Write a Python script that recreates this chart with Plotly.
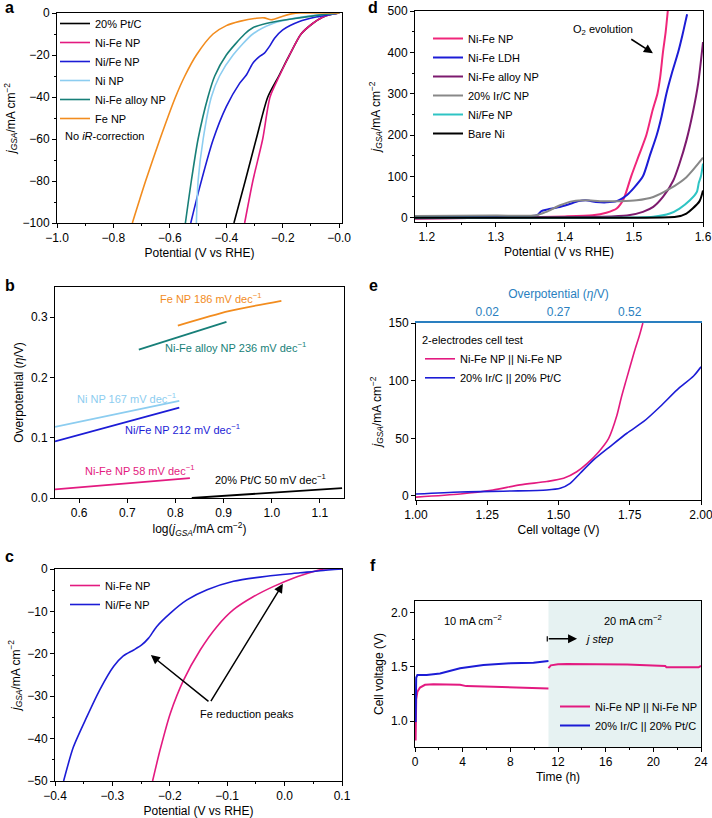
import plotly.graph_objects as go

FONT = "Arial, 'Liberation Sans', sans-serif"
W, H = 712, 818

# ---------------- panel a : HER polarisation ----------------
A_PT_X = [-0.373, -0.333, -0.294, -0.253, -0.214, -0.176, -0.135, -0.094, -0.059, -0.03, 0.0]
A_PT_Y = [-100, -80, -60, -40, -30, -20, -10, -5, -2, -0.7, 0]
A_NIFE_X = [-0.335, -0.306, -0.271, -0.245, -0.212, -0.176, -0.135, -0.094, -0.059, -0.03, 0.0]
A_NIFE_Y = [-100, -80, -60, -40, -30, -20, -10, -5, -2, -0.7, 0]
A_NI_SLASH_FE_X = [-0.526, -0.494, -0.447, -0.4, -0.353, -0.329, -0.306, -0.282, -0.265, -0.247, -0.229, -0.2, -0.141, -0.082, -0.024, 0.0]
A_NI_SLASH_FE_Y = [-100, -82.8, -60.5, -44.6, -33.5, -29.5, -23.9, -20.7, -19.1, -15.9, -12.0, -8.0, -4.0, -1.9, -0.5, 0]
A_NI_X = [-0.506, -0.5, -0.482, -0.453, -0.424, -0.376, -0.306, -0.235, -0.176, -0.082, 0.0]
A_NI_Y = [-100, -80, -60, -40, -30, -20, -10, -5, -3, -1, 0]
A_ALLOY_X = [-0.545, -0.524, -0.5, -0.465, -0.441, -0.4, -0.335, -0.306, -0.259, -0.176, -0.071, 0.0]
A_ALLOY_Y = [-100, -80, -60, -40, -30, -20, -10, -7, -5, -3, -1, 0]
A_FE_X = [-0.733, -0.686, -0.635, -0.58, -0.547, -0.506, -0.447, -0.4, -0.353, -0.294, -0.265, -0.241, -0.2, -0.165, -0.141, 0.0]
A_FE_Y = [-100, -80, -60, -40, -30, -20, -10, -6, -4, -2.5, -2.3, -3.2, -1.5, -0.3, 0, 0]
A_XTICKS = [-1.0, -0.8, -0.6, -0.4, -0.2, 0.0]
A_XTICKTEXT = ["−1.0", "−0.8", "−0.6", "−0.4", "−0.2", "−0.0"]

# ---------------- panel b : Tafel ----------------
B_FE_X = [0.805, 0.911, 1.020]
B_FE_Y = [0.286, 0.310, 0.327]
B_ALLOY_X = [0.724, 0.906]
B_ALLOY_Y = [0.246, 0.292]
B_NI_X = [0.55, 0.808]
B_NI_Y = [0.118, 0.161]
B_NI_SLASH_FE_X = [0.55, 0.808]
B_NI_SLASH_FE_Y = [0.094, 0.150]
B_NIFE_X = [0.55, 0.83]
B_NIFE_Y = [0.0143, 0.033]
B_PT_X = [0.834, 1.146]
B_PT_Y = [0.0, 0.0165]
B_LABELS = ["Fe NP 186 mV dec<sup>−1</sup>", "Ni-Fe alloy NP 236 mV dec<sup>−1</sup>",
            "Ni NP 167 mV dec<sup>−1</sup>", "Ni/Fe NP 212 mV dec<sup>−1</sup>",
            "Ni-Fe NP 58 mV dec<sup>−1</sup>", "20% Pt/C 50 mV dec<sup>−1</sup>"]
B_LABEL_X = [0.874, 0.925, 0.699, 0.814, 0.7255, 0.997]
B_LABEL_Y = [0.331, 0.251, 0.166, 0.114, 0.046, 0.031]

# ---------------- panel c : Fe reduction ----------------
C_NIFE_X = [-0.23, -0.217, -0.199, -0.176, -0.147, -0.118, -0.089, -0.054, -0.019, 0.016, 0.051, 0.068, 0.1]
C_NIFE_Y = [-50, -42.7, -34, -26.2, -19.1, -13.6, -9.6, -6.5, -4.1, -2.1, -0.6, 0, 0]
C_NI_SLASH_FE_X = [-0.385, -0.368, -0.345, -0.322, -0.298, -0.281, -0.263, -0.249, -0.237, -0.223, -0.199, -0.17, -0.135, -0.089, -0.031, 0.027, 0.062, 0.1]
C_NI_SLASH_FE_Y = [-50, -42.0, -35.0, -28.5, -23, -20.5, -19.1, -17.9, -16.3, -13.6, -10.4, -7.3, -4.9, -2.9, -1.7, -0.9, -0.4, 0]

# ---------------- panel d : OER ----------------
D_NIFE_X = [1.183, 1.3, 1.4, 1.44, 1.46, 1.475, 1.485, 1.496, 1.507, 1.518, 1.527, 1.534, 1.538, 1.542, 1.546, 1.549]
D_NIFE_Y = [-2, 0, 3, 6, 12, 22, 45, 100, 150, 200, 260, 300, 340, 400, 450, 500]
D_LDH_X = [1.183, 1.3, 1.36, 1.366, 1.375, 1.39, 1.405, 1.42, 1.43, 1.445, 1.46, 1.475, 1.49, 1.5, 1.513, 1.523, 1.533, 1.54, 1.547, 1.555, 1.564, 1.57, 1.574, 1.577]
D_LDH_Y = [2, 4, 6, 16, 20, 25, 32, 40, 42, 38, 37, 40, 55, 72, 100, 150, 200, 245, 300, 350, 400, 440, 470, 492]
D_ALLOY_X = [1.183, 1.3, 1.45, 1.49, 1.513, 1.528, 1.542, 1.557, 1.566, 1.576, 1.585, 1.593, 1.6]
D_ALLOY_Y = [-2, 0, 2, 5, 14, 26, 50, 90, 131, 187, 252, 325, 425]
D_IR_X = [1.183, 1.3, 1.359, 1.373, 1.393, 1.412, 1.431, 1.451, 1.48, 1.504, 1.528, 1.552, 1.576, 1.6]
D_IR_Y = [4, 5, 6, 14, 30, 40, 42, 40, 40, 42, 50, 70, 98, 145]
D_NI_SLASH_FE_X = [1.183, 1.4, 1.5, 1.528, 1.552, 1.566, 1.581, 1.591, 1.594, 1.597, 1.6]
D_NI_SLASH_FE_Y = [0, 0, 0.5, 2, 10, 22, 42, 62, 85, 100, 131]
D_BARE_X = [1.183, 1.5, 1.561, 1.576, 1.585, 1.595, 1.6]
D_BARE_Y = [0, 0, 2, 10, 22, 40, 66]

# ---------------- panel e : 2-electrode cell ----------------
E_NIFE_X = [1.0, 1.155, 1.27, 1.365, 1.459, 1.518, 1.564, 1.6, 1.64, 1.676, 1.705, 1.72, 1.737, 1.766, 1.785, 1.796]
E_NIFE_Y = [-1, 1.7, 5.2, 9.6, 12.5, 15.3, 21, 28, 38, 50, 70, 85, 100, 125, 140, 150]
E_IRPT_X = [1.0, 1.155, 1.33, 1.459, 1.506, 1.541, 1.576, 1.623, 1.681, 1.74, 1.799, 1.857, 1.916, 1.974, 2.0]
E_IRPT_Y = [1.7, 3.5, 4.3, 5.2, 6.7, 11, 19.7, 31.3, 42.9, 54.4, 64.6, 77.6, 92, 104, 112]
E_REV = 1.23  # overpotential = cell voltage - 1.23 V
E_TOP_TICKS = [0.02, 0.27, 0.52]

# ---------------- panel f : stability ----------------
F_NIFE_T1 = [0.05, 0.1, 0.2, 0.42, 0.84, 1.54, 3.78, 4.3, 6.58, 8.8, 11.2]
F_NIFE_V1 = [0.82, 1.2, 1.27, 1.31, 1.335, 1.34, 1.335, 1.323, 1.317, 1.307, 1.30]
F_NIFE_T2 = [11.2, 11.4, 12.0, 12.74, 17.8, 20.0, 21.0, 21.1, 23.8, 24.0]
F_NIFE_V2 = [1.49, 1.515, 1.525, 1.528, 1.522, 1.51, 1.51, 1.497, 1.497, 1.51]
F_IRPT_T = [0.05, 0.1, 0.2, 0.98, 2.1, 3.78, 5.74, 7.98, 9.94, 11.2]
F_IRPT_V = [0.99, 1.4, 1.426, 1.426, 1.44, 1.488, 1.519, 1.534, 1.54, 1.556]
F_STEP_T = 11.2

# ---------------- colours ----------------
C_BLACK = "#000000"
C_MAG = "#e31a80"
C_BLUE = "#1c1cd6"
C_LBLUE = "#8ccdf0"
C_TEAL = "#177f78"
C_ORANGE = "#f28c1e"
C_PINK = "#f0267a"
C_PURPLE = "#7d1a6e"
C_GRAY = "#888888"
C_CYAN = "#2ec4c4"
C_AXBLUE = "#2a7fc0"

fig = go.Figure()


def line(x, y, name, color, xa, ya, legend=None, width=1.6, shape="spline", show=True):
    fig.add_trace(go.Scatter(
        x=x, y=y, name=name, mode="lines",
        line=dict(color=color, width=width, shape=shape, smoothing=0.7 if shape == "spline" else None),
        xaxis=xa, yaxis=ya, legend=legend, showlegend=show and legend is not None,
        hoverinfo="skip"))


# panel a
line(A_PT_X, A_PT_Y, "20% Pt/C", C_BLACK, "x", "y", "legend")
line(A_NIFE_X, A_NIFE_Y, "Ni-Fe NP", C_MAG, "x", "y", "legend")
line(A_NI_SLASH_FE_X, A_NI_SLASH_FE_Y, "Ni/Fe NP", C_BLUE, "x", "y", "legend")
line(A_NI_X, A_NI_Y, "Ni NP", C_LBLUE, "x", "y", "legend")
line(A_ALLOY_X, A_ALLOY_Y, "Ni-Fe alloy NP", C_TEAL, "x", "y", "legend")
line(A_FE_X, A_FE_Y, "Fe NP", C_ORANGE, "x", "y", "legend")

# panel b
for bx, by, col in [(B_FE_X, B_FE_Y, C_ORANGE), (B_ALLOY_X, B_ALLOY_Y, C_TEAL),
                    (B_NI_X, B_NI_Y, C_LBLUE), (B_NI_SLASH_FE_X, B_NI_SLASH_FE_Y, C_BLUE),
                    (B_NIFE_X, B_NIFE_Y, C_MAG), (B_PT_X, B_PT_Y, C_BLACK)]:
    line(bx, by, "", col, "x2", "y2", None, width=1.8)

# panel c
line(C_NIFE_X, C_NIFE_Y, "Ni-Fe NP", C_MAG, "x3", "y3", "legend2")
line(C_NI_SLASH_FE_X, C_NI_SLASH_FE_Y, "Ni/Fe NP", C_BLUE, "x3", "y3", "legend2")

# panel d
line(D_NIFE_X, D_NIFE_Y, "Ni-Fe NP", C_PINK, "x4", "y4", "legend3", width=2)
line(D_LDH_X, D_LDH_Y, "Ni-Fe LDH", C_BLUE, "x4", "y4", "legend3", width=2)
line(D_ALLOY_X, D_ALLOY_Y, "Ni-Fe alloy NP", C_PURPLE, "x4", "y4", "legend3", width=2)
line(D_IR_X, D_IR_Y, "20% Ir/C NP", C_GRAY, "x4", "y4", "legend3", width=2)
line(D_NI_SLASH_FE_X, D_NI_SLASH_FE_Y, "Ni/Fe NP", C_CYAN, "x4", "y4", "legend3", width=2)
line(D_BARE_X, D_BARE_Y, "Bare Ni", C_BLACK, "x4", "y4", "legend3", width=2)

# panel e
line(E_NIFE_X, E_NIFE_Y, "Ni-Fe NP || Ni-Fe NP", C_MAG, "x5", "y5", "legend4")
line(E_IRPT_X, E_IRPT_Y, "20% Ir/C || 20% Pt/C", C_BLUE, "x5", "y5", "legend4")
fig.add_trace(go.Scatter(x=[v - E_REV for v in E_NIFE_X], y=E_NIFE_Y, mode="lines",
                         opacity=0, xaxis="x7", yaxis="y5", showlegend=False, hoverinfo="skip"))

# panel f
line(F_NIFE_T1 + [None] + F_NIFE_T2, F_NIFE_V1 + [None] + F_NIFE_V2, "Ni-Fe NP || Ni-Fe NP",
     C_MAG, "x6", "y6", "legend5", width=2, shape="linear")
line(F_IRPT_T, F_IRPT_V, "20% Ir/C || 20% Pt/C", C_BLUE, "x6", "y6", "legend5", width=2, shape="linear")


def dx(x0, x1):
    return [x0 / W, x1 / W]


def dy(top, bottom):
    return [1 - bottom / H, 1 - top / H]


def ax(domain, rng, anchor, title, **kw):
    d = dict(domain=domain, range=rng, anchor=anchor, showline=True, linecolor="black",
             linewidth=1, mirror=True, ticks="outside", ticklen=4, tickwidth=1, tickcolor="black",
             showgrid=False, zeroline=False, automargin=False,
             tickfont=dict(size=12, color="black", family=FONT),
             title=dict(text=title, font=dict(size=12, color="black", family=FONT), standoff=4))
    d.update(kw)
    return d


JGSA = "<i>j</i><sub><i>GSA</i></sub>/mA cm<sup>−2</sup>"

layout = dict(
    width=W, height=H, margin=dict(l=0, r=0, t=0, b=0),
    paper_bgcolor="white", plot_bgcolor="white",
    font=dict(family=FONT, size=11, color="black"),
    xaxis=ax(dx(57, 342), [-1.0, 0.01], "y", "Potential (V vs RHE)",
             tickmode="array", tickvals=A_XTICKS, ticktext=A_XTICKTEXT,
             minor=dict(ticks="outside", ticklen=2, tickmode="linear", tick0=0, dtick=0.1)),
    yaxis=ax(dy(13, 223), [-100, 0], "x", JGSA, dtick=20,
             minor=dict(ticks="outside", ticklen=2, dtick=10)),
    xaxis2=ax(dx(55, 344), [0.55, 1.15], "y2", "log(" + JGSA + ")", dtick=0.1, tickformat=".1f"),
    yaxis2=ax(dy(287, 498), [0, 0.35], "x2", "Overpotential (<i>η</i>/V)", dtick=0.1, tickformat=".1f"),
    xaxis3=ax(dx(55, 342), [-0.4, 0.1], "y3", "Potential (V vs RHE)", dtick=0.1, tickformat=".1f",
              minor=dict(ticks="outside", ticklen=2, dtick=0.05)),
    yaxis3=ax(dy(569, 781), [-50, 0], "x3", JGSA, dtick=10,
              minor=dict(ticks="outside", ticklen=2, dtick=5)),
    xaxis4=ax(dx(415, 703), [1.183, 1.6], "y4", "Potential (V vs RHE)", dtick=0.1, tickformat=".1f",
              minor=dict(ticks="outside", ticklen=2, dtick=0.05), ticklabeloverflow="allow"),
    yaxis4=ax(dy(11, 222), [-10.5, 500], "x4", JGSA, dtick=100,
              minor=dict(ticks="outside", ticklen=2, dtick=50)),
    xaxis5=ax(dx(416, 701), [1.0, 2.0], "y5", "Cell voltage (V)", dtick=0.25, tickformat=".2f",
              mirror=False, ticklabeloverflow="allow"),
    yaxis5=ax(dy(323, 500), [-3.5, 150], "x5", JGSA, dtick=50),
    xaxis7=dict(overlaying="x5", anchor="y5", side="top", range=[1.0 - E_REV, 2.0 - E_REV],
                tickmode="array", tickvals=E_TOP_TICKS, ticktext=[f"{v:.2f}" for v in E_TOP_TICKS],
                showline=True, linecolor=C_AXBLUE, linewidth=2, ticks="", showgrid=False,
                zeroline=False, automargin=False,
                tickfont=dict(size=12, color=C_AXBLUE, family=FONT),
                title=dict(text="Overpotential (<i>η</i>/V)",
                           font=dict(size=12, color=C_AXBLUE, family=FONT), standoff=4)),
    xaxis6=ax(dx(415, 701), [0, 24], "y6", "Time (h)", dtick=4,
              minor=dict(ticks="outside", ticklen=2, dtick=2), ticklabeloverflow="allow"),
    yaxis6=ax(dy(601, 747), [0.76, 2.11], "x6", "Cell voltage (V)", dtick=0.5, tickformat=".1f",
              minor=dict(ticks="outside", ticklen=2, dtick=0.25)),
)


def leg(x, top):
    return dict(x=x / W, y=1 - top / H, xanchor="left", yanchor="top",
                bgcolor="rgba(0,0,0,0)", borderwidth=0, itemwidth=30, tracegroupgap=0,
                font=dict(size=11, color="black", family=FONT))


layout["legend"] = leg(55, 9)
layout["legend2"] = leg(65, 571)
layout["legend3"] = leg(428, 24)
layout["legend4"] = leg(420, 330)
layout["legend4"]["title"] = dict(text="2-electrodes cell test", font=dict(size=11, family=FONT))
layout["legend5"] = leg(555, 692)
fig.update_layout(**layout)

ann = []
for lab, xpx, ypx in [("a", 3, 7), ("b", 3, 285), ("c", 3, 556), ("d", 366, 7), ("e", 367, 285), ("f", 368, 565)]:
    ann.append(dict(text=f"<b>{lab}</b>", x=xpx / W, y=1 - ypx / H, xref="paper", yref="paper",
                    xanchor="left", yanchor="middle", showarrow=False, font=dict(size=16, family=FONT)))

ann.append(dict(text="No <i>iR</i>-correction", x=-0.979, y=-58.5, xref="x", yref="y",
                xanchor="left", showarrow=False, font=dict(size=11)))

for t, bx, by, col in zip(B_LABELS, B_LABEL_X, B_LABEL_Y,
                          [C_ORANGE, C_TEAL, C_LBLUE, C_BLUE, C_MAG, C_BLACK]):
    ann.append(dict(text=t, x=bx, y=by, xref="x2", yref="y2", showarrow=False,
                    font=dict(size=11, color=col)))

# panel c arrows
for hx, hy in [(-0.233, -20.3), (-0.003, -3.5)]:
    ann.append(dict(text="", x=hx, y=hy, ax=-0.13, ay=-31.5, xref="x3", yref="y3",
                    axref="x3", ayref="y3", showarrow=True, arrowhead=2, arrowsize=1.2,
                    arrowwidth=1.5, arrowcolor="black"))
ann.append(dict(text="Fe reduction peaks", x=-0.066, y=-34.2, xref="x3", yref="y3",
                showarrow=False, font=dict(size=11)))

# panel d arrow
ann.append(dict(text="O<sub>2</sub> evolution", x=1.455, y=454, xref="x4", yref="y4",
                showarrow=False, font=dict(size=11)))
ann.append(dict(text="", x=1.5275, y=398, ax=1.494, ay=434, xref="x4", yref="y4",
                axref="x4", ayref="y4", showarrow=True, arrowhead=2, arrowsize=1.2,
                arrowwidth=1.5, arrowcolor="black"))

# panel f texts
ann.append(dict(text="10 mA cm<sup>−2</sup>", x=4.87, y=1.935, xref="x6", yref="y6",
                showarrow=False, font=dict(size=11)))
ann.append(dict(text="20 mA cm<sup>−2</sup>", x=18.3, y=1.935, xref="x6", yref="y6",
                showarrow=False, font=dict(size=11)))
ann.append(dict(text="<i>j step</i>", x=14.1, y=1.76, xref="x6", yref="y6", xanchor="left",
                showarrow=False, font=dict(size=11)))
ann.append(dict(text="", x=13.6, y=1.76, ax=F_STEP_T - 0.1, ay=1.76, xref="x6", yref="y6",
                axref="x6", ayref="y6", showarrow=True, arrowhead=2, arrowsize=1.2,
                arrowwidth=1.5, arrowcolor="black"))
fig.update_layout(annotations=ann)

fig.add_shape(type="rect", xref="x6", yref="y6 domain", x0=F_STEP_T, x1=24, y0=0, y1=1,
              fillcolor="#e6f2f2", line=dict(width=0), layer="below")
fig.add_shape(type="line", xref="x6", yref="y6", x0=F_STEP_T - 0.1, x1=F_STEP_T - 0.1,
              y0=1.735, y1=1.785, line=dict(color="black", width=1.2))

fig.write_html("out.html", config={"displayModeBar": False},
               post_script="document.body.style.margin='0';document.body.style.overflow='hidden';")
